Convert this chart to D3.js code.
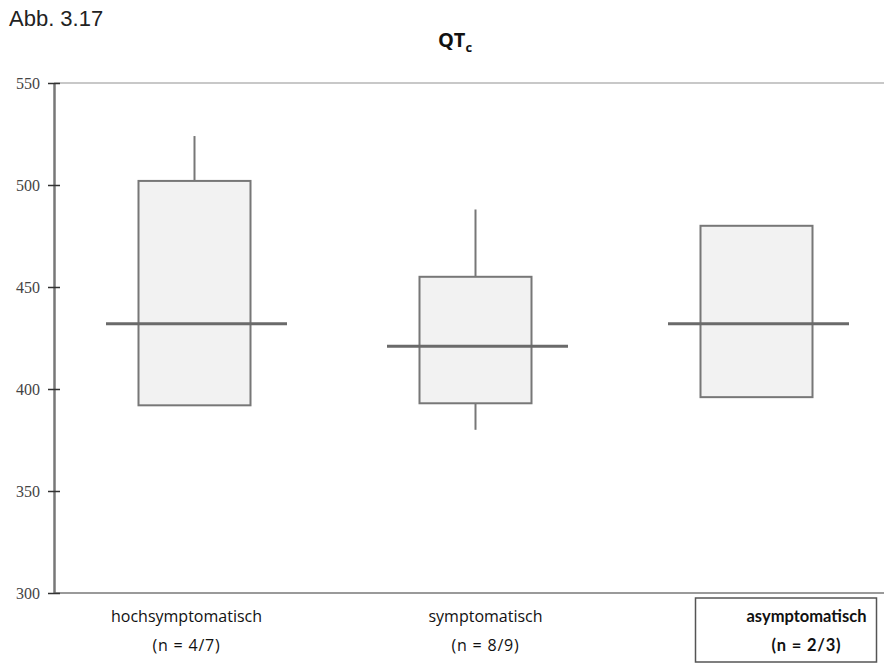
<!DOCTYPE html>
<html>
<head>
<meta charset="utf-8">
<script src="https://cdn.jsdelivr.net/npm/d3@7"></script>
<style>
body { margin: 0; background: #fff; }
</style>
</head>
<body>
<script>
var categories = ['hochsymptomatisch', 'symptomatisch', 'asymptomatisch'];
var nLabels = ['(n = 4/7)', '(n = 8/9)', '(n = 2/3)'];
var whiskerLow = [392, 380, 396];
var q1 = [392, 393, 396];
var median = [432, 421, 432];
var q3 = [502, 455, 480];
var whiskerHigh = [524, 488, 480];
var yTicks = [300, 350, 400, 450, 500, 550];

var width = 884;
var height = 663;

var margin = {
        left: 54,
        top: 83,
        bottom: 593
};

// y scale: 300..550
var y = d3.scaleLinear()
        .domain([300, 550])
        .range([margin.bottom, margin.top]);

// one band per group, 281px wide
var x = d3.scaleBand()
        .domain(categories)
        .range([margin.left, margin.left + 3 * 281])
        .padding(0);

var boxW = 112;
var medW = 181;
// label centres are a little off the band centres in the original
var labelShift = [-8, 10, 50];

var svg = d3.select("body")
        .append("svg")
        .attr("width", width)
        .attr("height", height);

// figure label
svg.append("text")
        .attr("x", 9)
        .attr("y", 26)
        .attr("font-family", "Liberation Sans, Arial, sans-serif")
        .attr("font-size", 22)
        .attr("fill", "#222")
        .text("Abb. 3.17");

// title with subscript
var title = svg.append("text")
        .attr("x", 455)
        .attr("y", 47)
        .attr("text-anchor", "middle")
        .attr("font-family", "Open Sans, sans-serif")
        .attr("font-weight", "bold")
        .attr("font-size", 20)
        .attr("fill", "#111");
title.append("tspan").text("QT");
title.append("tspan").attr("dy", 5).attr("font-size", 13).text("c");

// top line and bottom baseline
svg.append("line")
        .attr("x1", margin.left).attr("x2", width)
        .attr("y1", y(550)).attr("y2", y(550))
        .attr("stroke", "#c8c8c8").attr("stroke-width", 2);
svg.append("line")
        .attr("x1", margin.left).attr("x2", width)
        .attr("y1", y(300)).attr("y2", y(300))
        .attr("stroke", "#9a9a9a").attr("stroke-width", 2);

// y axis
var yAxis = d3.axisLeft(y)
        .tickValues(yTicks)
        .tickSizeInner(6)
        .tickSizeOuter(0)
        .tickPadding(8);
var yg = svg.append("g")
        .attr("transform", "translate(" + margin.left + ",0)")
        .call(yAxis);
yg.select(".domain").attr("stroke", "#777").attr("stroke-width", 2.5);
yg.selectAll(".tick line").attr("stroke", "#333").attr("stroke-width", 1.5)
        .attr("x1", -6).attr("x2", 6);
yg.selectAll(".tick text")
        .attr("font-family", "Liberation Serif, Times New Roman, serif")
        .attr("font-size", 16)
        .attr("fill", "#444");

// boxes
var groups = svg.selectAll(".box")
        .data(categories)
        .enter().append("g")
        .attr("class", "box");

groups.append("line")
        .attr("x1", function(d){ return x(d) + x.bandwidth() / 2; })
        .attr("x2", function(d){ return x(d) + x.bandwidth() / 2; })
        .attr("y1", function(d, i){ return y(whiskerHigh[i]); })
        .attr("y2", function(d, i){ return y(q3[i]); })
        .attr("stroke", "#777").attr("stroke-width", 2);
groups.append("line")
        .attr("x1", function(d){ return x(d) + x.bandwidth() / 2; })
        .attr("x2", function(d){ return x(d) + x.bandwidth() / 2; })
        .attr("y1", function(d, i){ return y(q1[i]); })
        .attr("y2", function(d, i){ return y(whiskerLow[i]); })
        .attr("stroke", "#777").attr("stroke-width", 2);

groups.append("rect")
        .attr("x", function(d){ return x(d) + x.bandwidth() / 2 - boxW / 2; })
        .attr("width", boxW)
        .attr("y", function(d, i){ return y(q3[i]); })
        .attr("height", function(d, i){ return y(q1[i]) - y(q3[i]); })
        .attr("fill", "#f2f2f2")
        .attr("stroke", "#777").attr("stroke-width", 2);

groups.append("line")
        .attr("x1", function(d){ return x(d) + x.bandwidth() / 2 + 2 - medW / 2; })
        .attr("x2", function(d){ return x(d) + x.bandwidth() / 2 + 2 + medW / 2; })
        .attr("y1", function(d, i){ return y(median[i]); })
        .attr("y2", function(d, i){ return y(median[i]); })
        .attr("stroke", "#6a6a6a").attr("stroke-width", 3);

// category labels
var labels = svg.selectAll(".cat")
        .data(categories)
        .enter().append("text")
        .attr("class", "cat")
        .attr("text-anchor", "middle")
        .attr("font-family", function(d, i){ return i == 2 ? "Lato, sans-serif" : "Open Sans, sans-serif"; })
        .attr("font-size", function(d, i){ return i == 2 ? 16.5 : 16; })
        .attr("fill", "#111")
        .attr("font-weight", function(d, i){ return i == 2 ? "bold" : "normal"; });
labels.append("tspan")
        .attr("x", function(d, i){ return x(d) + x.bandwidth() / 2 + labelShift[i]; })
        .attr("y", 622)
        .text(function(d){ return d; });
labels.append("tspan")
        .attr("x", function(d, i){ return x(d) + x.bandwidth() / 2 + labelShift[i]; })
        .attr("y", 651)
        .attr("letter-spacing", 0.8)
        .text(function(d, i){ return nLabels[i]; });

// frame around the last group label
svg.append("rect")
        .attr("x", x(categories[2]) + x.bandwidth() / 2 - 61)
        .attr("y", 598)
        .attr("width", 181)
        .attr("height", 64)
        .attr("fill", "none")
        .attr("stroke", "#555").attr("stroke-width", 1.5);
</script>
</body>
</html>
